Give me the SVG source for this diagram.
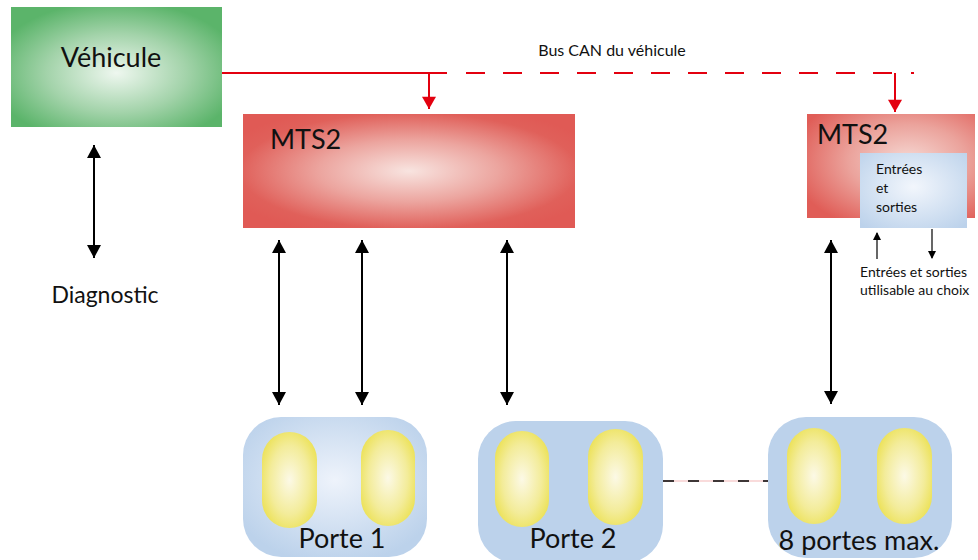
<svg xmlns="http://www.w3.org/2000/svg" width="978" height="560" viewBox="0 0 978 560">
<style>
text{font-family:Lato,"Open Sans","Liberation Sans",sans-serif;fill:#111}
.sm{stroke:#000;stroke-width:1.2;fill:none;marker-end:url(#sh)}
.bus{stroke:#e3000f;stroke-width:2;fill:none}
.dbl{marker-start:url(#hs2);marker-end:url(#hs2)}
.pill1{fill:url(#gy)}
</style>
<defs>
<radialGradient id="gg" cx="0.5" cy="0.55" r="0.6">
<stop offset="0" stop-color="#eef7ef"/><stop offset="0.55" stop-color="#a3d3aa"/><stop offset="1" stop-color="#5bb46a"/>
</radialGradient>
<radialGradient id="gr" cx="0.5" cy="0.5" r="0.6">
<stop offset="0" stop-color="#f8e4e0"/><stop offset="0.45" stop-color="#eca59f"/><stop offset="0.85" stop-color="#e0605a"/><stop offset="1" stop-color="#e05a55"/>
</radialGradient>
<radialGradient id="gr2" cx="0.6" cy="0.45" r="0.7">
<stop offset="0" stop-color="#f6d8d3"/><stop offset="0.5" stop-color="#eba39c"/><stop offset="1" stop-color="#e05d57"/>
</radialGradient>
<radialGradient id="gb" cx="0.5" cy="0.45" r="0.7">
<stop offset="0" stop-color="#f2f6fc"/><stop offset="1" stop-color="#bcd2eb"/>
</radialGradient>
<radialGradient id="gp" cx="0.5" cy="0.45" r="0.6">
<stop offset="0" stop-color="#eef3fb"/><stop offset="1" stop-color="#bcd2eb"/>
</radialGradient>
<radialGradient id="gy" cx="0.5" cy="0.5" r="0.6">
<stop offset="0" stop-color="#fcf9e6"/><stop offset="0.6" stop-color="#f3ec9a"/><stop offset="1" stop-color="#ebe04e"/>
</radialGradient>
<marker id="hs2" markerWidth="14" markerHeight="14" refX="13" refY="7" orient="auto-start-reverse" markerUnits="userSpaceOnUse" viewBox="0 0 14 14">
<path d="M0,0 L13,7 L0,14 Z" fill="#000"/>
</marker>
<marker id="sh" markerWidth="8" markerHeight="8" refX="7" refY="4" orient="auto" markerUnits="userSpaceOnUse" viewBox="0 0 8 8">
<path d="M0,0 L8,4 L0,8 Z" fill="#000"/>
</marker>
<marker id="rh" markerWidth="16" markerHeight="14" refX="13" refY="7.5" orient="auto" markerUnits="userSpaceOnUse" viewBox="0 0 14 15">
<path d="M0,0 L13,7.5 L0,15 Z" fill="#e3000f"/>
</marker>
</defs>

<g id="connectors">
<path class="bus" d="M221,73 H447"/>
<path class="bus" d="M466,73 H894" stroke-dasharray="19 18"/>
<path class="bus" d="M911,73 H914"/>
<path class="bus" d="M429,73 V109" marker-end="url(#rh)"/>
<path class="bus" d="M895,73 V112" marker-end="url(#rh)"/>
<g stroke="#000" stroke-width="2">
<path class="dbl" d="M94,145 V258"/>
<path class="dbl" d="M279,240 V405"/>
<path class="dbl" d="M362,240 V405"/>
<path class="dbl" d="M507,240 V405"/>
<path class="dbl" d="M831,240 V404"/>
</g>
<path d="M663,481 H771" stroke="#f4b8b8" stroke-width="1.2"/>
<path d="M663,481 H771" stroke="#000" stroke-width="1.6" stroke-dasharray="11 14"/>
</g>

<g id="vehicule">
<rect x="11" y="7" width="211" height="120" fill="url(#gg)"/>
<text x="111" y="67" font-size="27" text-anchor="middle">Véhicule</text>
</g>

<g id="bus-label">
<text x="612" y="56" font-size="16" text-anchor="middle">Bus CAN du véhicule</text>
</g>

<g id="mts2-a">
<rect x="243" y="114" width="332" height="114" fill="url(#gr)"/>
<text x="270" y="149" font-size="27">MTS2</text>
</g>

<g id="mts2-b">
<rect x="807" y="114" width="168" height="104" fill="url(#gr2)"/>
<text x="817" y="144" font-size="27">MTS2</text>
</g>

<g id="io">
<rect x="860" y="153" width="107" height="75" fill="url(#gb)"/>
<text font-size="14"><tspan x="876" y="174">Entrées</tspan><tspan x="876" y="193">et</tspan><tspan x="876" y="212">sorties</tspan></text>
<path class="sm" d="M877,259 V233"/>
<path class="sm" d="M932,229 V258"/>
<text font-size="14"><tspan x="860" y="277">Entrées et sorties</tspan><tspan x="860" y="295">utilisable au choix</tspan></text>
</g>

<g id="diagnostic">
<text x="105" y="303" font-size="23" text-anchor="middle">Diagnostic</text>
</g>

<g id="porte1">
<rect x="243" y="417" width="184" height="140" rx="38" fill="url(#gp)"/>
<rect class="pill1" x="262" y="432" width="55" height="96" rx="27.5"/>
<rect class="pill1" x="361" y="430" width="54" height="96" rx="27"/>
<text x="342" y="548" font-size="27" text-anchor="middle">Porte 1</text>
</g>

<g id="porte2">
<rect x="478" y="421" width="185" height="142" rx="38" fill="#bcd2eb"/>
<rect class="pill1" x="495" y="431" width="54" height="96" rx="27"/>
<rect class="pill1" x="588" y="429" width="55" height="96" rx="27.5"/>
<text x="573" y="548" font-size="27" text-anchor="middle">Porte 2</text>
</g>

<g id="porte8">
<rect x="768" y="417" width="184" height="141" rx="38" fill="#bcd2eb"/>
<rect class="pill1" x="787" y="428" width="54" height="96" rx="27"/>
<rect class="pill1" x="877" y="428" width="55" height="96" rx="27.5"/>
<text x="859" y="550" font-size="27" text-anchor="middle">8 portes max.</text>
</g>
</svg>
